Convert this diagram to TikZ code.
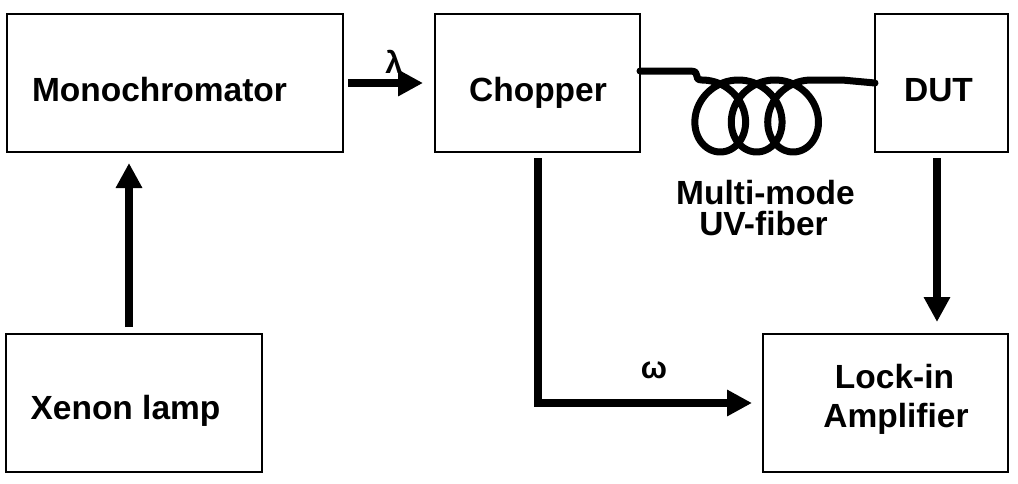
\documentclass[tikz,border=0pt]{standalone}
\usepackage{fontspec}
\setmainfont{Liberation Sans}
\usetikzlibrary{arrows.meta,calc}
\begin{document}
\begin{tikzpicture}[x=1pt,y=-1pt,
  blk/.style={draw=black, line width=2pt, inner sep=0pt, outer sep=0pt},
  lbl/.style={font=\fontsize{33.5}{39}\selectfont\bfseries, inner sep=0pt, anchor=base},
  arr/.style={line width=8pt, -{Triangle[length=25pt,width=25pt]}},
  fiber/.style={line width=7pt, line cap=round, line join=round}]
  \useasboundingbox (0,0) rectangle (1018,483);

  % blocks
  \node[blk, minimum width=336pt, minimum height=138pt] (mono)  at (175,83)    {};
  \node[blk, minimum width=205pt, minimum height=138pt] (chop)  at (537.5,83)  {};
  \node[blk, minimum width=133pt, minimum height=138pt] (dut)   at (941.5,83)  {};
  \node[blk, minimum width=256pt, minimum height=138pt] (xenon) at (134,403)   {};
  \node[blk, minimum width=245pt, minimum height=138pt] (lock)  at (885.5,403) {};

  % block captions
  \node[lbl] (monot)  at (159.5,101) {Monochromator};
  \node[lbl] (chopt)  at (538,101)   {Chopper};
  \node[lbl] (dutt)   at (938.5,101) {DUT};
  \node[lbl] (xenont) at (125.5,419) {Xenon lamp};
  \node[lbl] (lockt)  at (894.5,388) {Lock-in};
  \node[lbl] (ampt)   at (896,427)   {Amplifier};
  \node[lbl] (fibt1)  at (765.5,204) {Multi-mode};
  \node[lbl] (fibt2)  at (763.5,235) {UV-fiber};

  % arrows
  \draw[arr, shorten <=7pt, shorten >=11pt]
    ([xshift=-5pt]xenon.north) -- ([xshift=-5pt]xenon.north |- mono.south);
  \draw[arr, shorten <=5pt, shorten >=12pt] (mono.east) -- (chop.west);
  \draw[arr, shorten <=6pt, shorten >=11pt] (chop.south) |- (lock.west);
  \draw[arr, shorten <=6pt, shorten >=12pt]
    ([xshift=-4.5pt]dut.south) -- ([xshift=-4.5pt]dut.south |- lock.north);

  % signal labels
  \node[font=\fontsize{31}{31}\selectfont\bfseries, inner sep=0pt] (lam) at (394,62) {λ};
  \node[font=\fontsize{31}{31}\selectfont\bfseries, inner sep=0pt] (om)  at (654,370) {ω};

  % coiled fibre from the chopper to the DUT
  \draw[fiber] ([yshift=12pt]chop.east) -- ++(50,0)
    .. controls ++(12,0) and ++(-10,0) .. (702,80)
    -- plot[domain=0:18.85, samples=240, smooth, variable=\t]
       ({702+5.8*\t+34*sin(\t r)}, {116-36*cos(\t r)})
    .. controls ++(12,0) and ++(-12,0) .. (842,80)
    -- (dut.west);
\end{tikzpicture}
\end{document}
